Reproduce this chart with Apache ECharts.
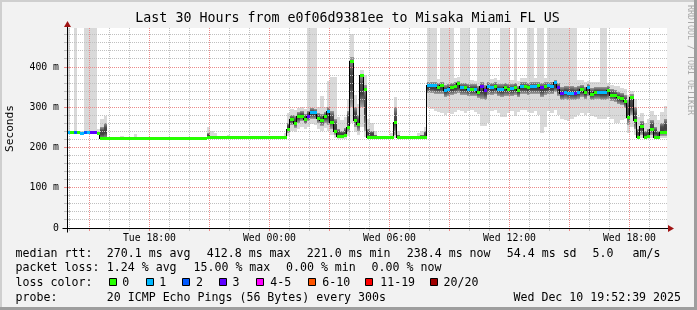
<!DOCTYPE html>
<html><head><meta charset="utf-8">
<script src="https://cdn.jsdelivr.net/npm/echarts@6/dist/echarts.min.js"></script>
<style>html,body{margin:0;padding:0;background:#f2f2f2;}#c{width:697px;height:310px;}</style>
</head><body><div id="c"></div>
<script>
// ---- time base (hours since Tue 00:00) ----
const START_H = 13 + 52/60 + 39/3600;   // Tue 13:52:39
const STEP_H = 10/60;                    // 10 minute samples
const SPAN_H = 30;
const yMax = 497;

// ---- data (ms), one value per 10-minute sample ----
const median = [
237,237,238,237,236,237,237,238,237,236,
223,223,223,223,223,223,223,223,223,223,
223,223,223,223,223,223,223,223,223,223,
223,223,223,223,223,223,223,223,223,223,
223,223,224,224,224,224,224,224,224,224,
224,224,224,224,224,224,224,224,224,224,
224,224,224,224,224,224,245,270,260,276,
278,270,278,287,287,273,266,276,289,261,
240,228,228,230,249,413,266,258,378,345,
226,225,225,225,225,225,225,225,262,225,
225,225,225,225,225,225,225,225,353,353,
353,350,353,342,345,350,352,359,349,349,
345,345,345,336,352,341,352,349,352,345,
345,349,345,347,349,341,352,352,349,352,
352,353,350,352,353,352,361,349,334,336,
334,334,334,336,345,336,350,332,336,336,
336,336,341,330,329,324,322,315,274,324,
266,225,251,225,228,245,225,225,238,238];

const lossCount = [
1,0,2,0,1,2,1,3,3,0,
0,0,0,0,0,0,0,0,0,0,
0,0,0,0,0,0,0,0,0,0,
0,0,0,0,0,0,0,0,0,0,
0,0,0,0,0,0,0,0,0,0,
0,0,0,0,0,0,0,0,0,0,
0,0,0,0,0,0,0,0,0,0,
0,0,3,1,1,0,0,0,1,0,
0,0,0,0,0,0,0,0,0,0,
0,0,0,0,0,0,0,0,0,0,
0,0,0,0,0,0,0,0,1,1,
1,0,0,1,1,0,0,0,1,0,
1,0,1,0,3,3,1,1,0,1,
1,0,0,1,0,0,1,0,0,1,
1,0,3,0,1,1,1,3,3,1,
1,1,3,1,0,0,1,0,0,1,
1,1,0,0,0,0,0,0,0,0,
0,0,0,0,0,0,0,0,0,0];

const smokeLo = [
235,235,235,235,234,235,235,236,235,234,
221,221,221,221,221,221,221,221,221,221,
221,221,221,221,221,221,221,221,221,221,
221,221,221,221,221,221,221,221,221,221,
221,221,221,221,221,221,221,221,221,221,
221,221,221,221,221,221,221,221,221,221,
221,221,221,221,221,221,228,240,238,245,
250,245,250,258,255,246,240,248,240,232,
224,222,222,222,228,260,238,232,250,226,
222,222,222,222,222,222,222,222,224,222,
222,222,222,222,222,222,222,222,300,295,
290,288,285,282,285,283,288,292,290,287,
290,293,288,284,253,253,260,290,292,286,
276,276,285,290,278,288,292,294,288,286,
290,280,237,250,290,285,292,280,272,268,
265,270,275,280,285,282,285,278,275,272,
270,272,275,270,262,262,268,270,235,250,
232,222,224,222,222,224,222,222,223,223];

const smokeHi = [
497,240,497,241,242,497,497,497,497,245,
270,278,226,226,226,226,229,226,226,226,
233,226,226,226,226,226,226,226,226,226,
226,226,226,226,226,226,226,226,226,226,
226,226,252,240,235,226,226,226,232,227,
227,227,227,227,227,227,227,227,227,227,
227,227,227,227,227,235,285,295,292,298,
300,296,497,497,497,300,328,300,365,374,
374,275,268,275,320,481,330,307,392,380,
270,262,240,228,228,228,228,235,325,240,
228,228,228,228,228,235,240,250,497,497,
497,370,497,497,497,497,372,375,497,497,
497,368,366,497,497,497,497,370,372,368,
497,497,497,368,497,366,372,372,497,497,
372,497,497,372,497,497,497,497,497,497,
497,497,497,368,368,364,366,362,362,362,
497,497,360,356,354,352,348,345,330,340,
320,275,285,262,270,291,282,268,288,303];

const darkLo = [
236,236,237,236,235,236,236,237,236,235,
222,222,222,222,222,222,222,222,222,222,
222,222,222,222,222,222,222,222,222,222,
222,222,222,222,222,222,222,222,222,222,
222,222,222,222,222,222,222,222,222,222,
222,222,222,222,222,222,222,222,222,222,
222,222,222,222,222,222,236,255,248,262,
265,258,265,272,272,260,254,262,255,245,
230,224,224,225,238,300,250,242,300,240,
224,223,223,223,223,223,223,223,230,223,
223,223,223,223,223,223,223,224,335,336,
334,332,334,326,328,330,332,336,330,330,
328,328,327,322,320,318,330,330,332,328,
326,328,327,329,330,325,332,332,330,332,
333,333,325,330,333,332,338,328,318,320,
318,318,318,320,326,320,328,318,320,320,
318,318,320,315,312,308,305,298,255,280,
245,224,230,224,224,230,224,224,228,228];

const darkHi = [
239,239,240,239,238,239,239,240,239,238,
250,262,225,225,225,225,225,225,225,225,
225,225,225,225,225,225,225,225,225,225,
225,225,225,225,225,225,225,225,225,225,
225,225,235,229,226,226,226,226,226,226,
226,226,226,226,226,226,226,226,226,226,
226,226,226,226,226,226,262,282,278,288,
290,284,290,297,296,287,284,288,300,290,
270,245,240,248,290,425,300,280,382,355,
245,240,230,227,227,227,227,228,300,230,
227,227,227,227,227,228,232,240,362,363,
362,360,362,356,358,360,362,366,360,360,
358,357,357,352,362,355,362,360,362,357,
357,360,357,358,360,353,362,362,360,362,
362,363,361,362,363,362,368,360,350,352,
352,352,350,352,356,350,358,348,350,350,
350,350,352,345,342,338,335,330,318,332,
300,245,265,240,245,268,250,242,262,270];

// ---- axes / grid ticks ----
const xLabelHours = [18, 24, 30, 36, 42];
const xLabelText = ['Tue 18:00', 'Wed 00:00', 'Wed 06:00', 'Wed 12:00', 'Wed 18:00'];
const yLabelValues = [0, 100, 200, 300, 400];
const yLabelText = ['0', '100 m', '200 m', '300 m', '400 m'];
const minorHours = [14,16,17,19,20,22,23,25,26,28,29,31,32,34,35,37,38,40,41,43];
const majorHours = [15,18,21,24,27,30,33,36,39,42];
const minorMs = [20,40,60,80,120,140,160,180,220,240,260,280,320,340,360,380,420,440,460,480];
const majorMs = [100,200,300,400];

// ---- legend texts ----
const titleText = 'Last 30 Hours from e0f06d9381ee to Misaka Miami FL US';
const rttStats = ['270.1 ms avg', '412.8 ms max', '221.0 ms min', '238.4 ms now', '54.4 ms sd', '5.0', 'am/s'];
const lossStats = ['1.24 % avg', '15.00 % max', '0.00 % min', '0.00 % now'];
const lossLabels = ['0', '1', '2', '3', '4-5', '6-10', '11-19', '20/20'];
const lossColors = ['#26ff00', '#00b8ff', '#0059ff', '#5e00ff', '#ff00ff', '#ff5500', '#ff0000', '#a00000'];
const probeText = '20 ICMP Echo Pings (56 Bytes) every 300s';
const dateText = 'Wed Dec 10 19:52:39 2025';

function lossClass(c) {
  if (c <= 3) return c;
  if (c <= 5) return 4;
  if (c <= 10) return 5;
  if (c < 20) return 6;
  return 7;
}

const MINOR_COL = '#c0c0c0';
const MAJOR_COL = '#ec8a8a';
const MONO = '"DejaVu Sans Mono", "Liberation Mono", monospace';

const smokeData = median.map((m, i) => [START_H + i * STEP_H, START_H + (i + 1) * STEP_H, smokeLo[i], smokeHi[i], darkLo[i], darkHi[i]]);
const medData = median.map((m, i) => [START_H + i * STEP_H, START_H + (i + 1) * STEP_H, m, i + 1 < median.length ? median[i + 1] : m, lossCount[i]]);
const gridData = [].concat(
  minorHours.map(h => [0, h]), majorHours.map(h => [1, h]),
  minorMs.map(v => [2, v]), majorMs.map(v => [3, v]));

const darkGrad = new echarts.graphic.LinearGradient(0, 0, 0, 1, [
  {offset: 0, color: '#9a9a9a'}, {offset: 0.3, color: '#4a4a4a'},
  {offset: 0.6, color: '#3e3e3e'}, {offset: 1, color: '#a4a4a4'}]);

function renderSmoke(params, api) {
  const a = api.coord([api.value(0), api.value(2)]);
  const b = api.coord([api.value(1), api.value(3)]);
  const c = api.coord([api.value(0), api.value(4)]);
  const d = api.coord([api.value(1), api.value(5)]);
  const x0 = Math.round(a[0]), x1 = Math.round(b[0]);
  const ya = Math.round(a[1]), yb = Math.round(b[1]);
  const yc = Math.round(c[1]), yd = Math.round(d[1]);
  return {type: 'group', children: [
    {type: 'rect', shape: {x: x0, y: yb, width: x1 - x0, height: Math.max(1, ya - yb)}, style: {fill: '#d9d9d9'}},
    {type: 'rect', shape: {x: x0, y: yd, width: x1 - x0, height: Math.max(1, yc - yd)}, style: {fill: darkGrad}}
  ]};
}

function renderMedian(params, api) {
  const p = api.coord([api.value(0), api.value(2)]);
  const q = api.coord([api.value(1), api.value(3)]);
  const x0 = Math.round(p[0]), x1 = Math.round(q[0]);
  const y = Math.floor(p[1]), yn = Math.floor(q[1]);
  const col = lossColors[lossClass(api.value(4))];
  return {type: 'group', children: [
    {type: 'rect', shape: {x: x1 - 1, y: Math.min(y, yn), width: 1, height: Math.abs(y - yn) + 1}, style: {fill: '#000'}},
    {type: 'rect', shape: {x: x0, y: y - 1, width: x1 - x0, height: 3}, style: {fill: col}}
  ]};
}

function renderGrid(params, api) {
  const kind = api.value(0), v = api.value(1);
  const cs = params.coordSys;
  const col = (kind === 1 || kind === 3) ? MAJOR_COL : MINOR_COL;
  if (kind < 2) {
    const x = Math.floor(api.coord([v, 0])[0]) + 0.5;
    return {type: 'group', children: [
      {type: 'line', shape: {x1: x, y1: cs.y, x2: x, y2: cs.y + cs.height}, style: {stroke: col, lineWidth: 1, lineDash: [1, 1]}},
      {type: 'line', shape: {x1: x, y1: cs.y + cs.height, x2: x, y2: cs.y + cs.height + 3}, style: {stroke: col, lineWidth: 1}}
    ]};
  }
  const y = Math.floor(api.coord([START_H, v])[1]) + 0.5;
  return {type: 'group', children: [
    {type: 'line', shape: {x1: cs.x + 1, y1: y, x2: cs.x + cs.width, y2: y}, style: {stroke: col, lineWidth: 1, lineDash: [1, 1]}},
    {type: 'line', shape: {x1: cs.x - 3, y1: y, x2: cs.x + 3, y2: y}, style: {stroke: col, lineWidth: 1}}
  ]};
}

const chart = echarts.init(document.getElementById('c'), null, {renderer: 'canvas', width: 697, height: 310});

const option = {
  animation: false,
  backgroundColor: '#f2f2f2',
  textStyle: {fontFamily: MONO},
  grid: {left: 67, top: 28, width: 600, height: 200, show: true, backgroundColor: '#ffffff', borderWidth: 0},
  xAxis: {
    type: 'value', min: START_H, max: START_H + SPAN_H,
    axisLine: {show: false}, axisTick: {show: false}, splitLine: {show: false},
    axisLabel: {
      customValues: xLabelHours, margin: 5, color: '#000', fontFamily: MONO, fontSize: 9.8,
      formatter: v => { const k = xLabelHours.indexOf(Math.round(v)); return k >= 0 ? xLabelText[k] : ''; }
    }
  },
  yAxis: {
    type: 'value', min: 0, max: yMax,
    axisLine: {show: false}, axisTick: {show: false}, splitLine: {show: false},
    axisLabel: {
      customValues: yLabelValues, margin: 8, color: '#000', fontFamily: MONO, fontSize: 9.8,
      formatter: v => { const k = yLabelValues.indexOf(Math.round(v)); return k >= 0 ? yLabelText[k] : ''; }
    }
  },
  series: [
    {type: 'custom', name: 'smoke', z: 2, renderItem: renderSmoke, data: smokeData, encode: {x: [0, 1], y: [2, 3, 4, 5]}, silent: true},
    {type: 'custom', name: 'grid', z: 3, clip: false, renderItem: renderGrid, data: gridData, silent: true},
    {type: 'custom', name: 'median', z: 4, renderItem: renderMedian, data: medData, encode: {x: [0, 1], y: [2, 3]}, silent: true}
  ]
};
chart.setOption(option);

// ---- decorations: axes with arrows, legend texts, frame ----
const o = chart.convertToPixel({gridIndex: 0}, [START_H, 0]);
const e = chart.convertToPixel({gridIndex: 0}, [START_H + SPAN_H, yMax]);
const axX = Math.floor(o[0]) + 0.5, axY = Math.floor(o[1]) + 0.5;
const ARROW = '#a01414';
const g = [];
g.push({type: 'line', z: 10, shape: {x1: axX, y1: axY + 4, x2: axX, y2: e[1] - 2}, style: {stroke: '#000', lineWidth: 1}});
g.push({type: 'polygon', z: 10, shape: {points: [[axX - 3.5, e[1] - 1], [axX + 3.5, e[1] - 1], [axX, e[1] - 7]]}, style: {fill: ARROW}});
g.push({type: 'line', z: 10, shape: {x1: axX - 5, y1: axY, x2: e[0] + 2, y2: axY}, style: {stroke: '#000', lineWidth: 1}});
g.push({type: 'polygon', z: 10, shape: {points: [[e[0] + 1, axY - 3.5], [e[0] + 1, axY + 3.5], [e[0] + 7, axY]]}, style: {fill: ARROW}});

function txt(s, x, y, size) {
  return {type: 'text', z: 10, x: x, y: y, style: {text: s, font: size + 'px ' + MONO, fill: '#000', align: 'left', verticalAlign: 'middle'}};
}
g.push({type: 'text', z: 10, x: 347.5, y: 19, style: {text: titleText, font: '13.3px ' + MONO, fill: '#000', align: 'center', verticalAlign: 'middle'}});
g.push({type: 'text', z: 10, x: 10.5, y: 128.5, rotation: Math.PI / 2, style: {text: 'Seconds', font: '11.2px ' + MONO, fill: '#000', align: 'center', verticalAlign: 'middle'}});
g.push({type: 'text', z: 10, x: 690, y: 60, rotation: -Math.PI / 2, style: {text: 'RRDTOOL / TOBI OETIKER', font: '8.3px ' + MONO, fill: '#a8a8a8', align: 'center', verticalAlign: 'middle'}});

const LF = 11.6;
const rttX = [106.8, 206.8, 306.8, 406.8, 506.8, 592.5, 632.5];
g.push(txt('median rtt:', 15.6, 254, LF));
rttStats.forEach((s, k) => g.push(txt(s, rttX[k], 254, LF)));
const lossX = [106.8, 193.5, 286, 371.6];
g.push(txt('packet loss:', 15.6, 268, LF));
lossStats.forEach((s, k) => g.push(txt(s, lossX[k], 268, LF)));
g.push(txt('loss color:', 15.6, 283, LF));
const boxX = [109, 146, 182, 219, 256, 308, 365, 430];
const boxLabelX = [122.3, 159.2, 196.1, 232.5, 270.2, 322.2, 380.2, 443.6];
lossLabels.forEach((s, k) => {
  g.push({type: 'rect', z: 10, shape: {x: boxX[k] + 0.5, y: 278.5, width: 7, height: 7}, style: {fill: lossColors[k], stroke: '#000', lineWidth: 1}});
  g.push(txt(s, boxLabelX[k], 283, LF));
});
g.push(txt('probe:', 15.6, 298, LF));
g.push(txt(probeText, 106.8, 298, LF));
g.push({type: 'text', z: 10, x: 681, y: 298, style: {text: dateText, font: LF + 'px ' + MONO, fill: '#000', align: 'right', verticalAlign: 'middle'}});

// frame
g.push({type: 'rect', z: 11, shape: {x: 0, y: 0, width: 697, height: 2}, style: {fill: '#cfcfcf'}});
g.push({type: 'rect', z: 11, shape: {x: 0, y: 0, width: 2, height: 310}, style: {fill: '#cfcfcf'}});
g.push({type: 'rect', z: 11, shape: {x: 694, y: 0, width: 3, height: 310}, style: {fill: '#9e9e9e'}});
g.push({type: 'rect', z: 11, shape: {x: 0, y: 307, width: 697, height: 3}, style: {fill: '#9e9e9e'}});

chart.setOption({graphic: g});
</script>
</body></html>
